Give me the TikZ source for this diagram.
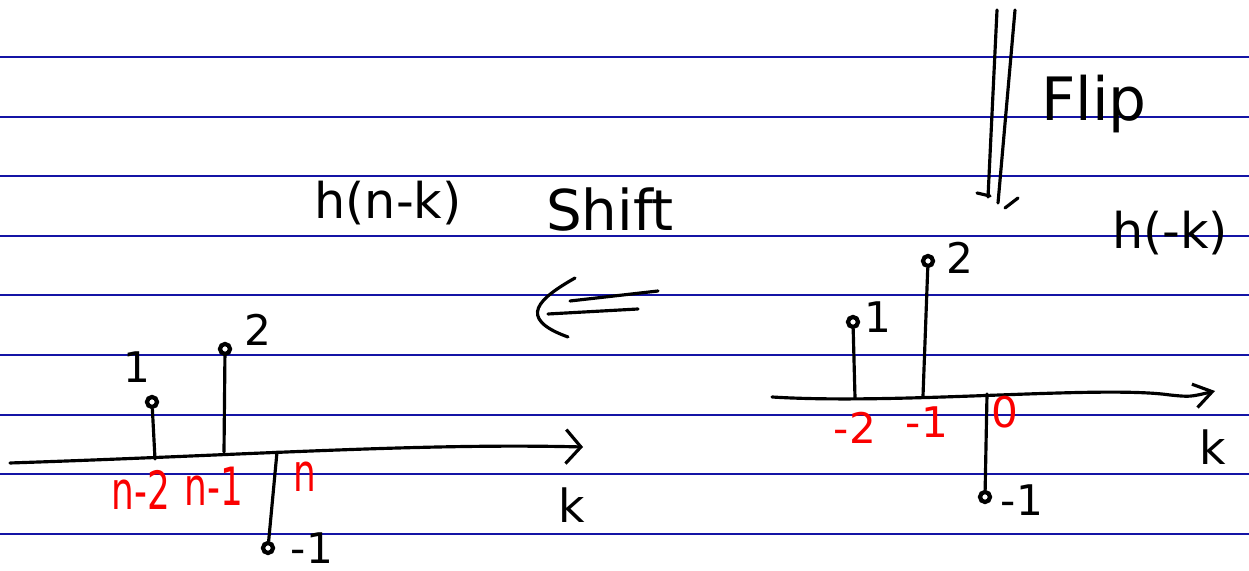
\documentclass[tikz,border=0pt]{standalone}
\usepackage{fontspec}
\setmainfont{DejaVu Sans}
\usetikzlibrary{arrows.meta}
\definecolor{rulecol}{RGB}{20,20,165}
\definecolor{redink}{RGB}{250,0,0}
\newcommand{\narrow}[1]{\scalebox{0.68}[1]{#1}}
\tikzset{
  ruling/.style={rulecol,line width=0.6pt},
  pen/.style={line width=0.9pt,line cap=round,line join=round},
  dot/.style={circle,draw,line width=1.2pt,inner sep=0pt,minimum size=0.1cm},
  val/.style={font=\fontsize{12}{14}\selectfont},
  idx/.style={text=redink,font=\fontsize{12}{14}\selectfont},
  word/.style={font=\fontsize{14}{16}\selectfont}
}
\begin{document}
\begin{tikzpicture}[x=0.01cm,y=-0.01cm]
            \def\gap{59.6}
            \useasboundingbox (0,0) rectangle (1249,571);
            \fill[white] (0,0) rectangle (1249,571);
            % ruled paper
            \foreach \i in {0,...,8}
                {\draw[ruling] (0,{57+\i*\gap})--(1249,{57+\i*\gap});}
            % titles
            \node[word] (hnk) at (388,203) {h(n-k)};
            \node[word] (hmk) at (1170,233) {h(-k)};
            \node[word,font=\fontsize{16}{18}\selectfont] (shift) at (610,210) {Shift};
            \node[word,font=\fontsize{17}{19}\selectfont] (flip) at (1094,104) {Flip};
            % flip arrow
            \draw[pen] (997,10)--(988,197);
            \draw[pen] (1015,10)--(998,203);
            \draw[pen] (977,193)--(990,196);
            \draw[pen] (1005,208)--(1018,198);
            % shift arrow
            \draw[pen] (575,278) .. controls (540,298) and (515,318) .. (568,337);
            \draw[pen] (570,301)--(658,291);
            \draw[pen] (548,314)--(638,309);
            % left panel: h(n-k)
            \coordinate (la0) at (10,463);
            \coordinate (la1) at (583,447);
            \draw[pen,-{Straight Barb[length=1.5mm,width=3.4mm]}]
                (la0) .. controls (250,455) and (420,443) .. (la1);
            \coordinate (b1) at (155,459);
            \coordinate (b2) at (224,452);
            \coordinate (b3) at (277,452);
            \node[dot] (p1) at (152,402) {};
            \node[dot] (p2) at (225,349) {};
            \node[dot] (p3) at (268,548) {};
            \draw[pen] (b1)--(p1);
            \draw[pen] (b2)--(p2);
            \draw[pen] (b3)--(p3);
            \node[val] (v1) at (137,367) {1};
            \node[val] (v2) at (258,330) {2};
            \node[val] (v3) at (312,548) {-1};
            \node[idx,font=\fontsize{15}{17}\selectfont] (n2) at (141,490) {\narrow{n-2}};
            \node[idx,font=\fontsize{15}{17}\selectfont] (n1) at (214,486) {\narrow{n-1}};
            \node[idx,font=\fontsize{15}{17}\selectfont] (n0) at (305,477) {\narrow{n}};
            \node[val,font=\fontsize{13}{15}\selectfont] (lk) at (572,505) {k};
            % right panel: h(-k)
            \coordinate (ra0) at (772,397);
            \coordinate (ra1) at (1215,391);
            \draw[pen,-{Straight Barb[length=1.8mm,width=2.4mm]}]
                (ra0) .. controls (900,405) and (1100,385) .. (1170,395)
                .. controls (1190,397) .. (ra1);
            \coordinate (c1) at (855,398);
            \coordinate (c2) at (923,396);
            \coordinate (c3) at (987,394);
            \node[dot] (q1) at (853,322) {};
            \node[dot] (q2) at (928,261) {};
            \node[dot] (q3) at (985,497) {};
            \draw[pen] (c1)--(q1);
            \draw[pen] (c2)--(q2);
            \draw[pen] (c3)--(q3);
            \node[val] (w1) at (878,317) {1};
            \node[val] (w2) at (960,258) {2};
            \node[val] (w3) at (1022,500) {-1};
            \node[idx] (m2) at (855,428) {-2};
            \node[idx] (m1) at (927,422) {-1};
            \node[idx] (m0) at (1005,412) {0};
            \node[val,font=\fontsize{13}{15}\selectfont] (rk) at (1213,447) {k};
\end{tikzpicture}
\end{document}
